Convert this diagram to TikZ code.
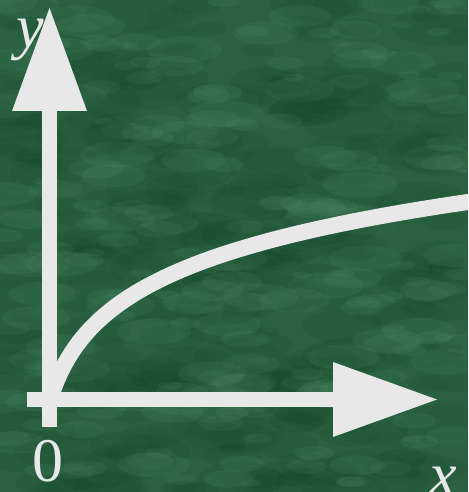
\documentclass[tikz,border=0pt]{standalone}
\usepackage{fontspec}
\setmainfont{Liberation Serif}
\definecolor{bgreen}{HTML}{2A6241}
\definecolor{dgreen}{HTML}{0A401E}
\definecolor{lgreen}{HTML}{6AA582}
\definecolor{chalk}{HTML}{E8E8E8}
\begin{document}
\begin{tikzpicture}[x=1pt, y=1pt,
        axis/.style={chalk, line width=15.5pt, line cap=butt},
        tiphead/.style={fill=chalk, draw=none},
        lbl/.style={chalk, inner sep=0pt, font=\fontsize{62}{62}\selectfont}]
    % 1. 背景
    \useasboundingbox (0,0) rectangle (468,492);
    \clip (0,0) rectangle (468,492);
    \fill[bgreen] (0,0) rectangle (468,492);
    \pgfmathsetseed{11}
    \foreach \i in {1,...,320} {
        \pgfmathsetmacro{\bx}{rnd*468}
        \pgfmathsetmacro{\by}{rnd*492}
        \pgfmathsetmacro{\br}{12+rnd*40}
        \fill[dgreen, opacity=0.1] (\bx,\by) ellipse [x radius=\br, y radius=0.4*\br];
    }
    \foreach \i in {1,...,220} {
        \pgfmathsetmacro{\bx}{rnd*468}
        \pgfmathsetmacro{\by}{rnd*492}
        \pgfmathsetmacro{\br}{8+rnd*30}
        \fill[lgreen, opacity=0.1] (\bx,\by) ellipse [x radius=\br, y radius=0.35*\br];
    }

    % 2. 坐标点
    \coordinate (ystart) at (49.5,65);
    \coordinate (ybase) at (49.5,381);
    \coordinate (ytop) at (49.5,484);
    \coordinate (xstart) at (27,92.5);
    \coordinate (xbase) at (333,92.5);
    \coordinate (xtip) at (437,92.5);

    % 3. 标签 (y 在箭头下面)
    \node[lbl] (ylab) at (30,452) {\itshape y};
    \node[lbl] (zerolab) at (47.5,31) {0};
    \node[lbl] (xlab) at (443,11) {\itshape x};

    % 4. 坐标轴
    \draw[axis] (ystart) -- ([yshift=1]ybase);
    \fill[tiphead] ([xshift=-37.5]ybase) -- ([xshift=37.5]ybase) -- (ytop) -- cycle;
    \draw[axis] (xstart) -- ([xshift=1]xbase);
    \fill[tiphead] ([yshift=37.5]xbase) -- ([yshift=-37.5]xbase) -- (xtip) -- cycle;

    % 5. 曲线
    \draw[chalk, line width=16pt] plot[domain=0:430, samples=120]
        ({50+\x}, {92.5+64*ln(1+\x/20)});
\end{tikzpicture}
\end{document}
